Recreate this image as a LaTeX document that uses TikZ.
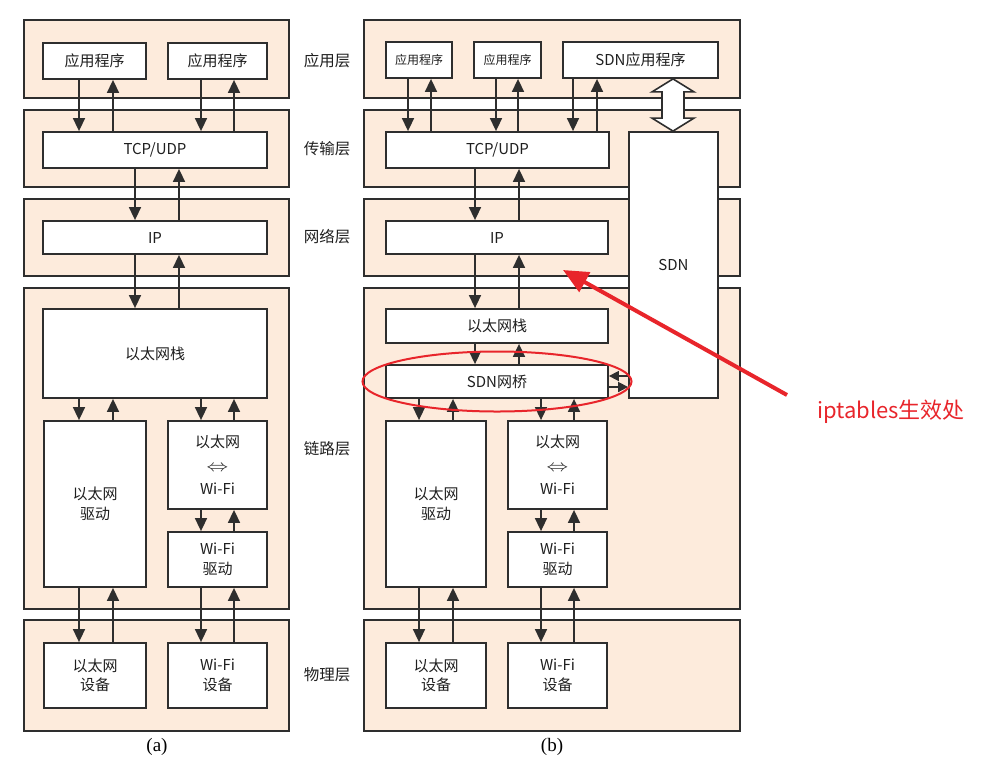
\documentclass[tikz,border=0pt]{standalone}
\usepackage{fontspec}
\setmainfont{Noto Sans CJK SC}
\newfontfamily\capfont{Liberation Serif}
\usepackage{xcolor}
\usetikzlibrary{calc,arrows.meta}

\definecolor{bandfill}{HTML}{FDEBDC}
\definecolor{linecol}{HTML}{2E2E2E}
\definecolor{markred}{HTML}{E8252B}

\begin{document}
\begin{tikzpicture}[x=1pt,y=-1pt,
    band/.style={draw=linecol,line width=1.8,fill=bandfill},
    box/.style={draw=linecol,line width=1.8,fill=white,inner sep=0pt,align=center,
      text=black!88,font=\fontsize{15}{19.5}\selectfont},
    boxwh/.style 2 args={box,minimum width=#1,minimum height=#2},
    arr/.style={draw=linecol,line width=1.6,-{Triangle[length=13pt,width=12pt]}},
    arrsmall/.style={draw=linecol,line width=1.6,-{Triangle[length=10pt,width=10pt]}},
    layerlabel/.style={text=black!88,font=\fontsize{15.5}{18}\selectfont},
    redarr/.style={draw=markred,line width=4,-{Triangle[length=25pt,width=22pt]}}]
  \useasboundingbox (0,0) rectangle (1003,769);

  % layer bands, left (a) and right (b)
  \foreach \xa/\xb in {24/289,364/740}
    \foreach \ya/\yb in {20/98,110/187,199/276,288/609,620/731}
      \draw[band] (\xa,\ya) rectangle (\xb,\yb);

  % (a)
  \node[boxwh={103}{36}] (a1) at (94.5,61) {应用程序};
  \node[boxwh={99}{36}] (a2) at (217.5,61) {应用程序};
  \node[boxwh={224}{36}] (tcp) at (155,150) {TCP/UDP};
  \node[boxwh={224}{33}] (ip) at (155,237.5) {IP};
  \node[boxwh={224}{89}] (eth) at (155,353.5) {以太网栈};
  \node[boxwh={102}{166}] (ethdrv) at (95,504) {以太网\\驱动};
  \node[boxwh={99}{88},font=\fontsize{15}{23.5}\selectfont] (wconv) at (217.5,465)
    {以太网\\\scalebox{1.5}[1.15]{$\Leftrightarrow$}\\Wi-Fi};
  \node[boxwh={99}{55}] (wdrv) at (217.5,559.5) {Wi-Fi\\驱动};
  \node[boxwh={102}{65}] (ethdev) at (95,675.5) {以太网\\设备};
  \node[boxwh={99}{65}] (wdev) at (217.5,675.5) {Wi-Fi\\设备};

  % (b)
  \node[boxwh={66}{36},font=\fontsize{12}{14}\selectfont] (ra1) at (419,60) {应用程序};
  \node[boxwh={67}{36},font=\fontsize{12}{14}\selectfont] (ra2) at (507.5,60) {应用程序};
  \node[boxwh={155}{36}] (sdnapp) at (640.5,60) {SDN应用程序};
  \node[boxwh={223}{36}] (rtcp) at (497.5,150) {TCP/UDP};
  \node[boxwh={89}{266}] (sdn) at (673.5,265) {SDN};
  \node[boxwh={222}{33}] (rip) at (497,237.5) {IP};
  \node[boxwh={222}{34}] (reth) at (497,326) {以太网栈};
  \node[boxwh={222}{33}] (br) at (497,381.5) {SDN网桥};
  \node[boxwh={100}{166}] (rethdrv) at (436,504) {以太网\\驱动};
  \node[boxwh={99}{88},font=\fontsize{15}{23.5}\selectfont] (rwconv) at (557.5,465)
    {以太网\\\scalebox{1.5}[1.15]{$\Leftrightarrow$}\\Wi-Fi};
  \node[boxwh={99}{55}] (rwdrv) at (557.5,559.5) {Wi-Fi\\驱动};
  \node[boxwh={100}{65}] (rethdev) at (436,675.5) {以太网\\设备};
  \node[boxwh={99}{65}] (rwdev) at (557.5,675.5) {Wi-Fi\\设备};

  % down / up arrow pairs
  \foreach \u/\l/\xd/\xu in {a1/tcp/79/113, a2/tcp/201/234, tcp/ip/135/179,
      ip/eth/135/179, eth/ethdrv/79/113, eth/wconv/201/234, wconv/wdrv/201/234,
      ethdrv/ethdev/79/113, wdrv/wdev/201/234,
      ra1/rtcp/408/431, ra2/rtcp/496/518, sdnapp/rtcp/573/597, rtcp/rip/475/519,
      rip/reth/475/519, reth/br/475/519, br/rethdrv/419/453, br/rwconv/541/574,
      rwconv/rwdrv/541/574, rethdrv/rethdev/419/453, rwdrv/rwdev/541/574} {
    \draw[arr] (\xd,0 |- \u.south) -- (\xd,0 |- \l.north);
    \draw[arr] (\xu,0 |- \l.north) -- (\xu,0 |- \u.south);
  }

  % SDN <-> SDN bridge
  \draw[arrsmall] (sdn.west |- 0,376) -- (br.east |- 0,376);
  \draw[arrsmall] (br.east |- 0,387) -- (sdn.west |- 0,387);

  % hollow double arrow, SDN app <-> SDN
  \coordinate (dt) at (673,0 |- sdnapp.south);
  \coordinate (db) at (673,0 |- sdn.north);
  \draw[linecol,line width=1.6,fill=white,line join=miter] (dt) -- ++(21,13) -- ++(-10,0)
    -- ($(db)+(11,-13)$) -- ++(10,0) -- (db) -- ++(-21,-13) -- ++(10,0)
    -- ($(dt)+(-11,13)$) -- ++(-10,0) -- cycle;

  % layer names
  \node[layerlabel] (lapp) at (327,61) {应用层};
  \node[layerlabel] (ltrans) at (327,149) {传输层};
  \node[layerlabel] (lnet) at (327,237) {网络层};
  \node[layerlabel] (llink) at (327,449) {链路层};
  \node[layerlabel] (lphys) at (327,675) {物理层};

  % captions
  \node[font=\capfont\fontsize{19}{22}\selectfont] (capa) at (157,747) {(a)};
  \node[font=\capfont\fontsize{19}{22}\selectfont] (capb) at (552,747) {(b)};

  % iptables mark
  \draw[markred,line width=2] (br.center) ellipse [x radius=134.5,y radius=30];
  \node[text=markred,font=\fontsize{22}{26}\selectfont] (ipt) at (891,412) {iptables生效处};
  \coordinate (iptail) at (787,395);
  \coordinate (iptip) at (563,270);
  \draw[redarr] (iptail) -- (iptip);
\end{tikzpicture}
\end{document}
